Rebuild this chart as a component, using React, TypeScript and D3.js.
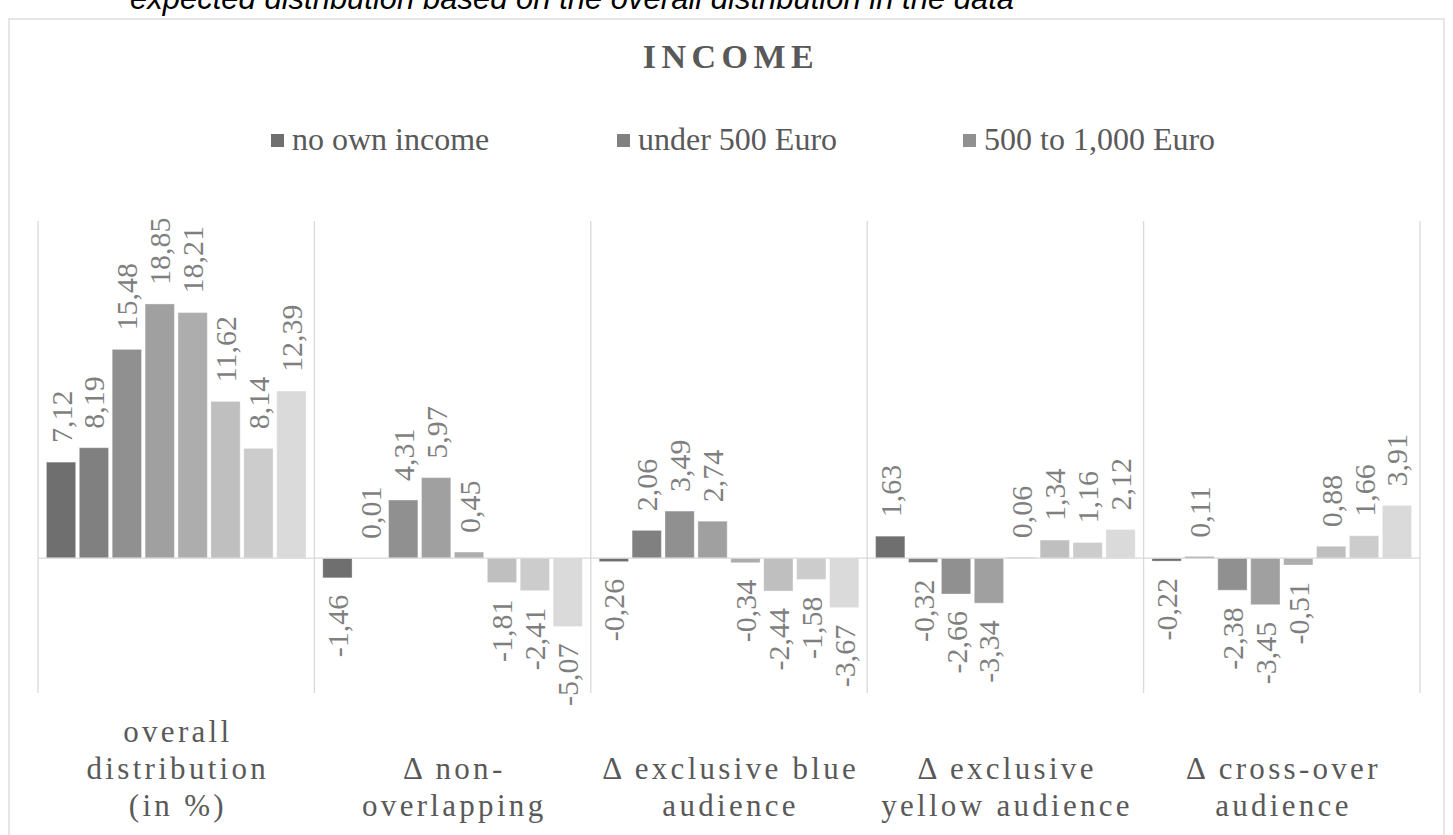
import React from "react";
import * as d3 from "d3";

// categories along the x axis (multi-line labels)
const categories = [
  "overall distribution (in %)",
  "Δ non-overlapping",
  "Δ exclusive blue audience",
  "Δ exclusive yellow audience",
  "Δ cross-over audience",
];
const categoryLines = [
  ["overall", "distribution", "(in %)"],
  ["Δ non-", "overlapping"],
  ["Δ exclusive blue", "audience"],
  ["Δ exclusive", "yellow audience"],
  ["Δ cross-over", "audience"],
];

// eight income groups per category, darkest to lightest
const overall = [7.12, 8.19, 15.48, 18.85, 18.21, 11.62, 8.14, 12.39];
const nonOverlapping = [-1.46, 0.01, 4.31, 5.97, 0.45, -1.81, -2.41, -5.07];
const exclusiveBlue = [-0.26, 2.06, 3.49, 2.74, -0.34, -2.44, -1.58, -3.67];
const exclusiveYellow = [1.63, -0.32, -2.66, -3.34, 0.06, 1.34, 1.16, 2.12];
const crossOver = [-0.22, 0.11, -2.38, -3.45, -0.51, 0.88, 1.66, 3.91];
const values = [overall, nonOverlapping, exclusiveBlue, exclusiveYellow, crossOver];

// only the first legend row is visible in the original
const legendLabels = ["no own income", "under 500 Euro", "500 to 1,000 Euro"];
const seriesColors = [
  "#6f6f6f",
  "#808080",
  "#909090",
  "#a0a0a0",
  "#adadad",
  "#bfbfbf",
  "#cccccc",
  "#dadada",
];

const W = 1453;
const H = 835;
const plot = { left: 38, right: 1420, top: 221, bottom: 693 };
const serif = "'Liberation Serif', 'Times New Roman', serif";
const fmt = d3
  .formatLocale({ decimal: ",", thousands: ".", grouping: [3], currency: ["", ""], minus: "-" })
  .format(".2f");

export default function App() {
  const x0 = d3.scaleBand<string>().domain(categories).range([plot.left, plot.right]);
  const seriesIdx = d3.range(seriesColors.length).map(String);
  const x1 = d3
    .scaleBand<string>()
    .domain(seriesIdx)
    .range([0, x0.bandwidth()])
    .paddingInner(0.11)
    .paddingOuter(0.255);
  const y = d3.scaleLinear().domain([-10, 25]).range([plot.bottom, plot.top]);

  const gridX = [...categories.map((c) => x0(c)!), plot.right];
  const legendX = d3.range(legendLabels.length).map((i) => 271 + i * 346);

  return (
    <svg
      width={W}
      height={H}
      style={{ position: "absolute", left: 0, top: 0, background: "#fff" }}
    >
      {/* cut-off caption above the chart */}
      <text
        x={130}
        y={9}
        fontFamily="'Liberation Sans', Arial, sans-serif"
        fontStyle="italic"
        fontSize={31}
        fill="#000"
      >
        expected distribution based on the overall distribution in the data
      </text>

      <rect x={9} y={19} width={1435} height={H} fill="none" stroke="#d9d9d9" strokeWidth={1.3} />

      <text
        x={731}
        y={68}
        textAnchor="middle"
        fontFamily={serif}
        fontWeight="bold"
        fontSize={34}
        letterSpacing={5.5}
        fill="#595959"
      >
        INCOME
      </text>

      {legendLabels.map((l, i) => (
        <g key={l} transform={`translate(${legendX[i]},0)`}>
          <rect x={0} y={134} width={13} height={13} fill={seriesColors[i]} />
          <text x={21} y={150} fontFamily={serif} fontSize={32} fill="#595959">
            {l}
          </text>
        </g>
      ))}

      {/* category separators and zero line */}
      {gridX.map((gx, i) => (
        <line
          key={i}
          x1={gx}
          x2={gx}
          y1={plot.top}
          y2={plot.bottom}
          stroke="#d9d9d9"
          strokeWidth={1.3}
        />
      ))}

      {categories.map((c, ci) => (
        <g key={c} transform={`translate(${x0(c)},0)`}>
          {values[ci].map((v, si) => {
            const bx = x1(String(si))!;
            const cx = bx + x1.bandwidth() / 2;
            const top = y(Math.max(0, v));
            const h = Math.abs(y(v) - y(0));
            const ly = v >= 0 ? y(v) - 19 : y(v) + 17;
            return (
              <g key={si}>
                <rect
                  x={bx}
                  y={top}
                  width={x1.bandwidth()}
                  height={h}
                  fill={seriesColors[si]}
                  stroke="#ffffff"
                  strokeOpacity={0.35}
                  strokeWidth={1}
                />
                <text
                  transform={`translate(${cx},${ly}) rotate(-90)`}
                  textAnchor={v >= 0 ? "start" : "end"}
                  dominantBaseline="central"
                  fontFamily={serif}
                  fontSize={30}
                  fill="#7f7f7f"
                >
                  {fmt(v)}
                </text>
              </g>
            );
          })}
        </g>
      ))}

      <line
        x1={plot.left}
        x2={plot.right}
        y1={y(0)}
        y2={y(0)}
        stroke="#d9d9d9"
        strokeWidth={1.3}
      />

      {categories.map((c, ci) => {
        const lines = categoryLines[ci];
        const cx = x0(c)! + x0.bandwidth() / 2;
        return (
          <text
            key={c}
            textAnchor="middle"
            fontFamily={serif}
            fontSize={31}
            letterSpacing={3.3}
            fill="#595959"
          >
            {lines.map((t, li) => (
              <tspan key={li} x={cx + 1.65} y={816 - (lines.length - 1 - li) * 37}>
                {t}
              </tspan>
            ))}
          </text>
        );
      })}
    </svg>
  );
}
